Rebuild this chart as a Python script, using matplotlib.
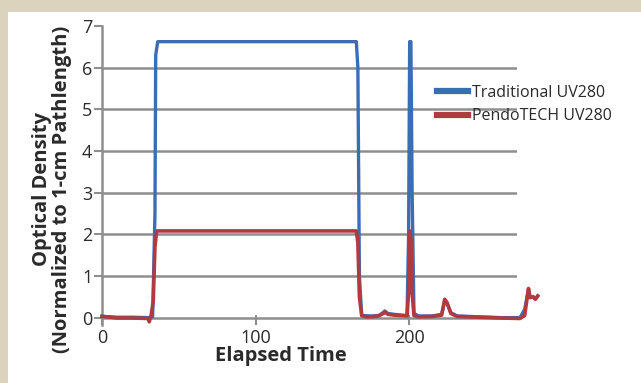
import matplotlib.pyplot as plt
from matplotlib.patches import Rectangle

# Elapsed time vs optical density
trad_x = [0, 10, 20, 30, 33, 34.5, 35, 36.3, 60, 100, 140, 165.5, 166.5, 167.5, 169,
          175, 180, 183, 184, 186, 190, 195, 198.5, 199.5, 200.2, 201, 201.8, 203,
          206, 215, 221, 223, 224.5, 227, 231, 245, 260, 272, 275, 277.5, 278.5,
          280.5, 282, 283.5]
trad_y = [0.03, 0.01, 0.01, 0.0, 0.02, 2.5, 6.3, 6.62, 6.62, 6.62, 6.62, 6.62, 6.0, 1.0, 0.05,
          0.04, 0.05, 0.12, 0.16, 0.1, 0.08, 0.06, 0.05, 2.0, 6.62, 6.62, 3.0, 0.1,
          0.04, 0.04, 0.08, 0.4, 0.35, 0.12, 0.04, 0.02, 0.0, 0.0, 0.2, 0.68, 0.5,
          0.5, 0.45, 0.52]

pendo_x = [0, 3, 10, 20, 30, 30.8, 32, 33.4, 34.5, 35.6, 60, 100, 140, 165.5, 166.5,
           167.5, 169, 172, 175, 180, 183, 184, 186, 190, 195, 198.5, 199.5, 200.2,
           201, 201.8, 203, 206, 215, 221, 223, 224.5, 227, 231, 245, 260, 272,
           275, 277.5, 278.5, 280.5, 282, 283.5]
pendo_y = [0.03, 0.02, -0.01, -0.01, -0.02, -0.1, 0.05, 0.4, 1.7, 2.08, 2.08, 2.08, 2.08,
           2.08, 1.8, 0.5, 0.05, 0.02, 0.02, 0.04, 0.1, 0.14, 0.08, 0.06, 0.05, 0.04,
           0.6, 2.08, 1.9, 0.6, 0.05, 0.02, 0.03, 0.06, 0.44, 0.36, 0.1, 0.03, 0.01,
           -0.01, -0.02, 0.05, 0.7, 0.48, 0.5, 0.44, 0.52]

x_ticks = [0, 100, 200]
y_ticks = [0, 1, 2, 3, 4, 5, 6, 7]

blue = '#3b6db5'
red = '#b03a40'
grid = '#8e8e8e'
txt = '#2a2a2a'
font = ['Open Sans', 'DejaVu Sans']

fig = plt.figure(figsize=(6.41, 3.83), dpi=100, facecolor='#dbd3bc')
fig.patches.append(Rectangle((8 / 641, 0), 1, 1 - 12 / 383, transform=fig.transFigure,
                             facecolor='white', edgecolor='none', zorder=-10))

ax = fig.add_axes([0.159, 0.1514, 0.6475, 0.7812])
ax.set_zorder(5)
ax.set_facecolor('none')
ax.set_xlim(0, 270)
ax.set_ylim(-0.177, 7)

for v in y_ticks[:-1]:
    ax.axhline(v, color=grid, lw=1.8, zorder=1)

ax.plot(trad_x, trad_y, color=blue, lw=2.4, clip_on=False, zorder=3,
        label='Traditional UV280')
ax.plot(pendo_x, pendo_y, color=red, lw=2.6, clip_on=False, zorder=4,
        label='PendoTECH UV280')

for s in ['top', 'right', 'bottom']:
    ax.spines[s].set_visible(False)
ax.spines['left'].set_color(grid)
ax.spines['left'].set_linewidth(1.8)

ax.set_xticks(x_ticks)
ax.set_yticks(y_ticks)
ax.tick_params(axis='both', colors=grid, width=1.5, labelsize=13, labelcolor=txt)
ax.tick_params(axis='x', direction='in', length=7, pad=3)
ax.tick_params(axis='y', length=6, pad=1)
for lab in ax.get_xticklabels() + ax.get_yticklabels():
    lab.set_family(font)

ax.set_xlabel('Elapsed Time', fontsize=14.5, fontweight='bold', family=font, color=txt)
ax.xaxis.label.set_verticalalignment('center')
ax.xaxis.set_label_coords(0.431, -0.104)

ax.set_ylabel('Optical Density\n(Normalized to 1-cm Pathlength)', fontsize=14.5,
              fontweight='bold', family=font, color=txt, linespacing=0.95)
ax.yaxis.label.set_verticalalignment('center')
ax.yaxis.set_label_coords(-0.12, 0.455)

leg = ax.legend(loc='center left', bbox_to_anchor=(0.807, 0.737), frameon=False,
                borderpad=0, borderaxespad=0, handlelength=1.95, handletextpad=0.24,
                labelspacing=0.5, prop={'family': font, 'size': 11.5})
for line in leg.get_lines():
    line.set_linewidth(4.5)
for t in leg.get_texts():
    t.set_color(txt)

plt.savefig('out.png', dpi=100, facecolor=fig.get_facecolor())
